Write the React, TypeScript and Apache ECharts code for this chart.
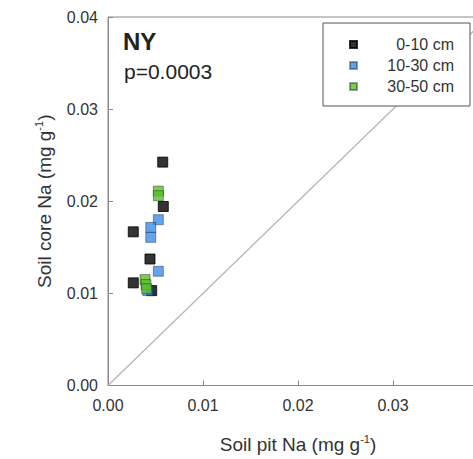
import React, { useEffect, useRef } from "react";
import * as echarts from "echarts";

const depthNames = ["0-10 cm", "10-30 cm", "30-50 cm"];
const depthColors = ["#000000", "#3c8ee8", "#5abf2a"];

const pitNa0to10 = [0.00576, 0.00582, 0.00266, 0.00442, 0.00266, 0.0046];
const coreNa0to10 = [0.02425, 0.01943, 0.01668, 0.01373, 0.01114, 0.0103];

const pitNa10to30 = [0.0053, 0.0045, 0.0045, 0.0053, 0.00418];
const coreNa10to30 = [0.018, 0.01716, 0.01608, 0.0124, 0.0103];

const pitNa30to50 = [0.0053, 0.0053, 0.0039, 0.004, 0.00407];
const coreNa30to50 = [0.0211, 0.0206, 0.0115, 0.01095, 0.0105];

const oneToOne = [0, 0.04];
const tickValues = [0, 0.01, 0.02, 0.03, 0.04];

const siteName = "NY";
const pValue = "p=0.0003";

const FONT = "'Liberation Sans', Arial, sans-serif";

function pairs(xs: number[], ys: number[]) {
  return xs.map((x, i) => [x, ys[i]]);
}

export default function App() {
  const ref = useRef<HTMLDivElement>(null);

  useEffect(() => {
    if (!ref.current) return;
    const chart = echarts.init(ref.current, undefined, { renderer: "svg" });
    const xsAll = [pitNa0to10, pitNa10to30, pitNa30to50];
    const ysAll = [coreNa0to10, coreNa10to30, coreNa30to50];

    const axisCommon = {
      min: tickValues[0],
      max: tickValues[tickValues.length - 1],
      interval: 0.01,
      axisLine: { show: true, lineStyle: { color: "#8a8a8a", width: 1 } },
      axisTick: { show: true, inside: true, length: 5, lineStyle: { color: "#8a8a8a" } },
      splitLine: { show: false },
      axisLabel: {
        fontFamily: FONT,
        fontSize: 16,
        color: "#333",
        formatter: (v: number) => v.toFixed(2),
      },
      nameLocation: "middle" as const,
    };

    const nameRich = {
      b: { fontFamily: FONT, fontSize: 19, color: "#333", lineHeight: 22 },
      s: { fontFamily: FONT, fontSize: 11, color: "#333", lineHeight: 11, verticalAlign: "top" as const },
    };

    chart.setOption({
      animation: false,
      backgroundColor: "#ffffff",
      grid: {
        left: 108,
        top: 17,
        right: 12,
        bottom: 72,
        show: true,
        borderColor: "#8a8a8a",
        borderWidth: 1,
        backgroundColor: "transparent",
      },
      xAxis: {
        type: "value",
        ...axisCommon,
        axisLabel: { ...axisCommon.axisLabel, margin: 12, showMaxLabel: false },
        name: "{b|Soil pit Na (mg g}{s|-1}{b|)}",
        nameGap: 48,
        nameTextStyle: { rich: nameRich },
      },
      yAxis: {
        type: "value",
        ...axisCommon,
        axisLabel: { ...axisCommon.axisLabel, margin: 10 },
        name: "{b|Soil core Na (mg g}{s|-1}{b|)}",
        nameGap: 53,
        nameRotate: 90,
        nameTextStyle: { rich: nameRich },
      },
      legend: {
        data: depthNames,
        orient: "vertical",
        left: 323,
        top: 23,
        padding: [13.5, 16, 11.5, 26],
        itemGap: 5,
        itemWidth: 7,
        itemHeight: 7,
        icon: "rect",
        backgroundColor: "#ffffff",
        borderColor: "#555",
        borderWidth: 1,
        borderRadius: 0,
        formatter: (name: string) => `{r|${name}}`,
        textStyle: {
          fontFamily: FONT,
          fontSize: 16,
          color: "#333",
          rich: {
            r: {
              fontFamily: FONT,
              fontSize: 16,
              color: "#333",
              width: 92,
              align: "right",
            },
          },
        },
        z: 10,
      },
      graphic: [
        {
          type: "text",
          left: 123,
          top: 29,
          z: 10,
          style: { text: siteName, fontFamily: FONT, fontSize: 24, fontWeight: "bold", fill: "#222" },
        },
        {
          type: "text",
          left: 124,
          top: 61,
          z: 10,
          style: { text: pValue, fontFamily: FONT, fontSize: 21, fill: "#222" },
        },
      ],
      series: [
        {
          type: "line",
          data: pairs(oneToOne, oneToOne),
          symbol: "none",
          silent: true,
          lineStyle: { color: "#b4b4b4", width: 1.2 },
          z: 1,
          legendHoverLink: false,
        },
        ...depthNames.map((name, i) => ({
          type: "scatter",
          name,
          data: pairs(xsAll[i], ysAll[i]),
          symbol: "rect",
          symbolSize: 10,
          itemStyle: {
            color: depthColors[i],
            borderColor: i === 0 ? "#000" : "rgba(0,0,0,0.45)",
            borderWidth: 1,
          },
          z: 3 + i,
        })),
      ],
    });
    return () => chart.dispose();
  }, []);

  return (
    <div
      ref={ref}
      style={{ position: "fixed", left: 0, top: 0, width: 500, height: 459, background: "#fff" }}
    />
  );
}
